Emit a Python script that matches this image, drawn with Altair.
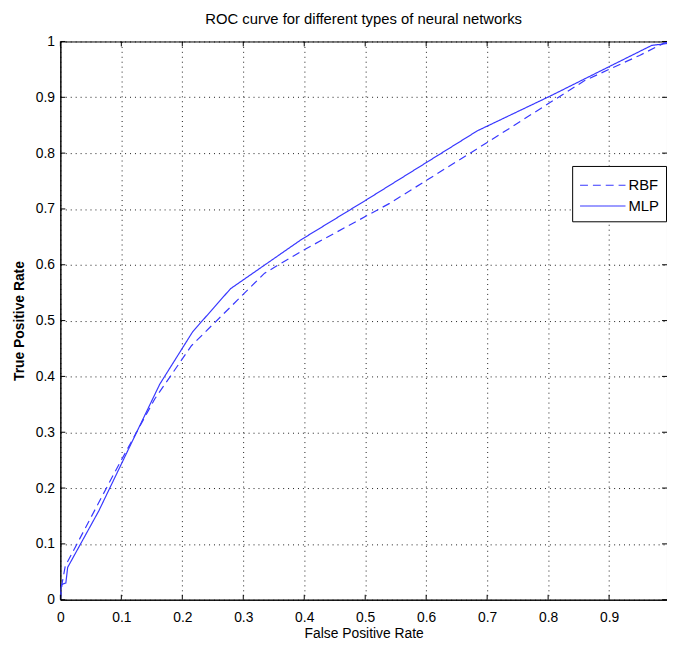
import altair as alt
import pandas as pd

title_text = "ROC curve for different types of neural networks"
x_title = "False Positive Rate"
y_title = "True Positive Rate"
series_names = ["RBF", "MLP"]

rbf_fpr = [0.0, 0.003, 0.008, 0.09, 0.155, 0.215, 0.335, 0.40, 0.54, 0.70, 0.86, 0.95, 0.99, 1.0]
rbf_tpr = [0.0, 0.03, 0.06, 0.23, 0.36, 0.455, 0.585, 0.627, 0.71, 0.819, 0.93, 0.975, 0.997, 1.0]

mlp_fpr = [0.0, 0.0, 0.002, 0.009, 0.012, 0.063, 0.163, 0.217, 0.279, 0.395, 0.5, 0.684, 0.803, 0.97, 1.0]
mlp_tpr = [0.0, 0.014, 0.027, 0.03, 0.058, 0.159, 0.386, 0.48, 0.557, 0.645, 0.715, 0.84, 0.902, 0.993, 0.997]

x_ticks = [0.0, 0.1, 0.2, 0.3, 0.4, 0.5, 0.6, 0.7, 0.8, 0.9]
y_ticks = [0.0, 0.1, 0.2, 0.3, 0.4, 0.5, 0.6, 0.7, 0.8, 0.9, 1.0]

W, H = 614, 565
FONT = "Liberation Sans"
BLUE = "#3838ff"

rows = []
for i, (x, y) in enumerate(zip(rbf_fpr, rbf_tpr)):
    rows.append({"series": "RBF", "fpr": x, "tpr": y, "idx": i})
for i, (x, y) in enumerate(zip(mlp_fpr, mlp_tpr)):
    rows.append({"series": "MLP", "fpr": x, "tpr": y, "idx": i})
df = pd.DataFrame(rows)

xscale = alt.Scale(domain=[0, 0.995], nice=False, zero=False)
yscale = alt.Scale(domain=[0, 1], nice=False)

legend = alt.Legend(
    title=None,
    orient="none",
    legendX=518,
    legendY=126,
    symbolType="M-1,0L3,0",
    symbolSize=529,
    symbolStrokeWidth=1.2,
    labelFont=FONT,
    labelFontSize=15,
    labelColor="black",
    labelOffset=25,
    strokeColor="black",
    fillColor="white",
    padding=7,
    rowPadding=0,
)

lines = alt.Chart(df).mark_line(clip=True, strokeWidth=1.2).encode(
    x=alt.X(
        "fpr:Q",
        scale=xscale,
        title=x_title,
        axis=alt.Axis(
            values=x_ticks,
            format="~g",
            ticks=False,
            labelPadding=11,
            titlePadding=2,
            labelFlush=False,
            titleFontWeight="normal",
        ),
    ),
    y=alt.Y(
        "tpr:Q",
        scale=yscale,
        title=y_title,
        axis=alt.Axis(
            values=y_ticks,
            format="~g",
            ticks=False,
            labelPadding=6,
            titlePadding=9,
            labelFlush=False,
            titleFontWeight="bold",
        ),
    ),
    color=alt.Color(
        "series:N",
        scale=alt.Scale(domain=series_names, range=[BLUE, BLUE]),
        legend=legend,
    ),
    strokeDash=alt.StrokeDash(
        "series:N",
        scale=alt.Scale(domain=series_names, range=[[8, 5], [1, 0]]),
        legend=legend,
    ),
    order="idx:Q",
)

xt = pd.DataFrame({"v": x_ticks})
yt = pd.DataFrame({"v": y_ticks})

bottom_ticks = alt.Chart(xt).mark_rule(color="black", strokeWidth=1).encode(
    x=alt.X("v:Q", scale=xscale), y=alt.value(H), y2=alt.value(H - 5)
)
top_ticks = alt.Chart(xt).mark_rule(color="black", strokeWidth=1).encode(
    x=alt.X("v:Q", scale=xscale), y=alt.value(0), y2=alt.value(5)
)
left_ticks = alt.Chart(yt).mark_rule(color="black", strokeWidth=1).encode(
    y=alt.Y("v:Q", scale=yscale), x=alt.value(0), x2=alt.value(5)
)
right_ticks = alt.Chart(yt).mark_rule(color="black", strokeWidth=1).encode(
    y=alt.Y("v:Q", scale=yscale), x=alt.value(W - 5), x2=alt.value(W)
)

chart = (
    alt.layer(lines, bottom_ticks, top_ticks, left_ticks, right_ticks)
    .properties(
        width=W,
        height=H,
        background="white",
        autosize=alt.AutoSizeParams(type="none"),
        padding={"left": 53, "top": 30, "right": 0, "bottom": 45},
        title=alt.TitleParams(
            title_text,
            font=FONT,
            fontSize=15,
            fontWeight="normal",
            color="black",
            anchor="middle",
            offset=8,
        ),
    )
    .configure_view(stroke="black", strokeWidth=1)
    .configure_axis(
        domainColor="black",
        domainWidth=1,
        grid=True,
        gridColor="black",
        gridDash=[1, 4],
        gridOpacity=0.9,
        gridWidth=1,
        labelFont=FONT,
        labelFontSize=14,
        labelColor="black",
        labelOverlap=False,
        titleFont=FONT,
        titleFontSize=14,
        titleColor="black",
    )
)

chart.save("out.html", embed_options={"renderer": "svg", "actions": False})
